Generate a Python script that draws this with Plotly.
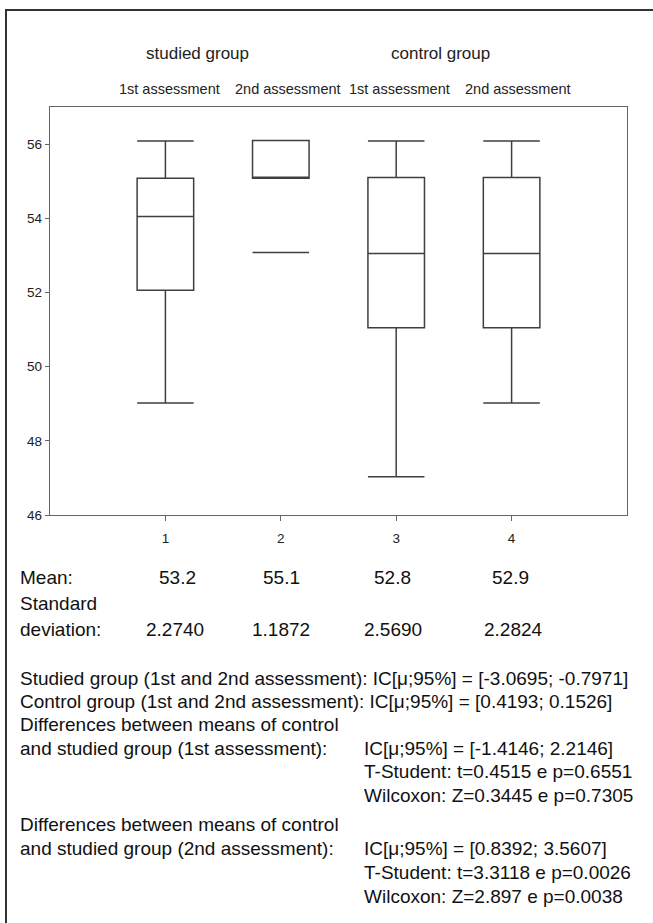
import plotly.graph_objects as go

# ---- data ----
positions = [1, 2, 3, 4]
lower_fence = [49.02, 55.08, 47.03, 49.02]
q1_vals = [52.06, 55.08, 51.05, 51.05]
medians = [54.05, 55.08, 53.05, 53.05]
q3_vals = [55.08, 56.10, 55.10, 55.10]
upper_fence = [56.08, 56.10, 56.08, 56.08]
extra_line_pos = [2]
extra_line_val = [53.08]

group_labels = ["studied group", "control group"]
assessment_labels = ["1st assessment", "2nd assessment", "1st assessment", "2nd assessment"]
mean_labels = ["53.2", "55.1", "52.8", "52.9"]
sd_labels = ["2.2740", "1.1872", "2.5690", "2.2824"]
y_ticks = [46, 48, 50, 52, 54, 56]
x_ticks = [1, 2, 3, 4]

W, H = 653, 923
L, R, T, B = 50, 627, 107, 515


def px(x):
    return (x - L) / (R - L)


def py(y):
    return (B - y) / (B - T)


BOXCOL = "#3f3f3f"
FONT = "Liberation Sans, Arial, sans-serif"
BODY = 19

fig = go.Figure()
fig.add_trace(go.Box(
    x=positions, q1=q1_vals, median=medians, q3=q3_vals,
    lowerfence=lower_fence, upperfence=upper_fence,
    width=0.49, whiskerwidth=1, boxpoints=False,
    line=dict(color=BOXCOL, width=1.5), fillcolor="rgba(0,0,0,0)",
    showlegend=False, hoverinfo="skip",
))
fig.add_trace(go.Box(
    x=extra_line_pos, q1=extra_line_val, median=extra_line_val, q3=extra_line_val,
    lowerfence=extra_line_val, upperfence=extra_line_val,
    width=0.49, whiskerwidth=1, boxpoints=False,
    line=dict(color=BOXCOL, width=1.5), fillcolor="rgba(0,0,0,0)",
    showlegend=False, hoverinfo="skip",
))

ann = []
# headers
for lab, cx in zip(group_labels, [197, 440]):
    ann.append(dict(x=px(cx), y=py(53), text=lab, font=dict(size=17, color="#222")))
for lab, cx in zip(assessment_labels, [169, 288, 399, 518]):
    ann.append(dict(x=px(cx), y=py(89), text=lab, font=dict(size=14.5, color="#222")))

# mean / sd rows
col_x = [177, 281, 392, 510]
ann.append(dict(x=px(18), y=py(577), text="Mean:", xanchor="left"))
for lab, cx in zip(mean_labels, col_x):
    ann.append(dict(x=px(cx), y=py(577), text=lab))
ann.append(dict(x=px(18), y=py(603), text="Standard", xanchor="left"))
ann.append(dict(x=px(18), y=py(629), text="deviation:", xanchor="left"))
for lab, cx in zip(sd_labels, [175, 281, 393, 513]):
    ann.append(dict(x=px(cx), y=py(629), text=lab))

left_lines = [
    (678, "Studied group (1st and 2nd assessment): IC[μ;95%] = [-3.0695; -0.7971]"),
    (701, "Control group (1st and 2nd assessment): IC[μ;95%] = [0.4193; 0.1526]"),
    (724, "Differences between means of control"),
    (748, "and studied group (1st assessment):"),
    (824, "Differences between means of control"),
    (848, "and studied group (2nd assessment):"),
]
right_lines = [
    (748, "IC[μ;95%] = [-1.4146; 2.2146]"),
    (771, "T-Student: t=0.4515 e p=0.6551"),
    (795, "Wilcoxon: Z=0.3445 e p=0.7305"),
    (848, "IC[μ;95%] = [0.8392; 3.5607]"),
    (872, "T-Student: t=3.3118 e p=0.0026"),
    (896, "Wilcoxon: Z=2.897 e p=0.0038"),
]
for yy, t in left_lines:
    ann.append(dict(x=px(18), y=py(yy), text=t, xanchor="left"))
for yy, t in right_lines:
    ann.append(dict(x=px(362), y=py(yy), text=t, xanchor="left"))

for a in ann:
    a.setdefault("xanchor", "center")
    a.update(xref="paper", yref="paper", yanchor="middle", showarrow=False)
    a.setdefault("font", dict(size=BODY, color="#111"))
    a["font"].setdefault("family", FONT)

shapes = [
    dict(type="line", xref="paper", yref="paper", x0=px(6), x1=px(6), y0=py(10), y1=py(930),
         line=dict(color="#333", width=2)),
    dict(type="line", xref="paper", yref="paper", x0=px(5), x1=px(660), y0=py(10), y1=py(10),
         line=dict(color="#333", width=2)),
]

axis_common = dict(showline=True, mirror=True, linecolor="#666", linewidth=1.3,
                   showgrid=False, zeroline=False, ticks="outside", tickcolor="#666",
                   tickfont=dict(family=FONT, size=13.5, color="#222"))

fig.update_layout(
    width=W, height=H,
    margin=dict(l=L, r=W - R, t=T, b=H - B, autoexpand=False),
    paper_bgcolor="white", plot_bgcolor="white",
    annotations=ann, shapes=shapes,
    xaxis=dict(range=[0, 5], tickvals=x_ticks, ticklen=5, ticklabelstandoff=6, **axis_common),
    yaxis=dict(range=[46, 57], tickvals=y_ticks, ticklen=4, **axis_common),
    font=dict(family=FONT),
)

fig.write_html("out.html", config={"displayModeBar": False},
               post_script="document.body.style.margin='0';document.body.style.overflow='hidden';")
